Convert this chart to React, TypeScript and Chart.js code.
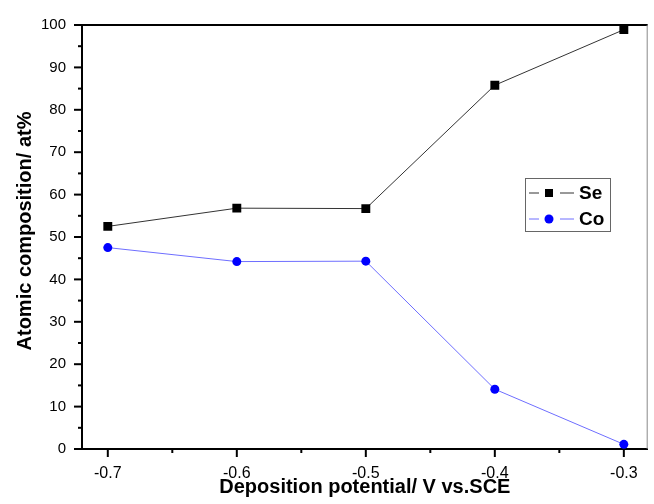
import React, { useEffect, useRef } from "react";
import { Chart, registerables } from "chart.js";

Chart.register(...registerables);

const potentials = [-0.7, -0.6, -0.5, -0.4, -0.3];
const seValues = [52.5, 56.8, 56.7, 85.8, 98.9];
const coValues = [47.5, 44.2, 44.3, 14.1, 1.1];
const xTickValues = [-0.7, -0.65, -0.6, -0.55, -0.5, -0.45, -0.4, -0.35, -0.3];
const xTickLabels = ["-0.7", "", "-0.6", "", "-0.5", "", "-0.4", "", "-0.3"];
const yTickValues = [0, 5, 10, 15, 20, 25, 30, 35, 40, 45, 50, 55, 60, 65, 70, 75, 80, 85, 90, 95, 100];
const yTickLabels = ["0", "", "10", "", "20", "", "30", "", "40", "", "50", "", "60", "", "70", "", "80", "", "90", "", "100"];
const xTitle = "Deposition potential/ V vs.SCE";
const yTitle = "Atomic composition/ at%";

const FONT = "'Liberation Sans', Arial, sans-serif";

const framePlugin = {
  id: "frame",
  afterDraw(chart: any) {
    const { ctx, chartArea } = chart;
    const { left, right, top, bottom } = chartArea;
    ctx.save();
    // top & right frame
    ctx.strokeStyle = "#000";
    ctx.lineWidth = 2;
    ctx.beginPath();
    ctx.moveTo(left - 1, top);
    ctx.lineTo(right, top);
    ctx.stroke();
    ctx.strokeStyle = "#888";
    ctx.lineWidth = 1;
    ctx.beginPath();
    ctx.moveTo(right - 0.5, top);
    ctx.lineTo(right - 0.5, bottom);
    ctx.stroke();
    // ticks
    ctx.strokeStyle = "#000";
    ctx.lineWidth = 2;
    const xs = chart.scales.x;
    xs.ticks.forEach((t: any, i: number) => {
      const px = xs.getPixelForValue(t.value);
      const len = xTickLabels[i] ? 8 : 4;
      ctx.beginPath();
      ctx.moveTo(px, bottom);
      ctx.lineTo(px, bottom + len);
      ctx.stroke();
    });
    const ys = chart.scales.y;
    ys.ticks.forEach((t: any, i: number) => {
      const py = ys.getPixelForValue(t.value);
      const len = yTickLabels[i] ? 8 : 4;
      ctx.beginPath();
      ctx.moveTo(left, py);
      ctx.lineTo(left - len, py);
      ctx.stroke();
    });
    // y title
    ctx.fillStyle = "#000";
    ctx.font = `bold 20px ${FONT}`;
    ctx.textAlign = "center";
    ctx.textBaseline = "middle";
    ctx.translate(25, 231);
    ctx.rotate(-Math.PI / 2);
    ctx.fillText(yTitle, 0, 0);
    ctx.restore();

    // legend
    ctx.save();
    const bx = 525, by = 178, bw = 85, bh = 53;
    ctx.fillStyle = "#fff";
    ctx.fillRect(bx, by, bw, bh);
    ctx.strokeStyle = "#666";
    ctx.lineWidth = 1;
    ctx.strokeRect(bx + 0.5, by + 0.5, bw, bh);
    chart.data.datasets.forEach((ds: any, i: number) => {
      const cy = by + 15 + i * 26;
      ctx.strokeStyle = ds.borderColor;
      ctx.lineWidth = 1;
      ctx.beginPath();
      ctx.moveTo(bx + 4, cy);
      ctx.lineTo(bx + 14, cy);
      ctx.moveTo(bx + 35, cy);
      ctx.lineTo(bx + 49, cy);
      ctx.stroke();
      ctx.fillStyle = ds.pointBackgroundColor;
      if (ds.pointStyle === "rect") {
        ctx.fillRect(bx + 20, cy - 4, 8, 8);
      } else {
        ctx.beginPath();
        ctx.arc(bx + 24, cy, 4.5, 0, Math.PI * 2);
        ctx.fill();
      }
      ctx.fillStyle = "#000";
      ctx.font = `bold 19px ${FONT}`;
      ctx.textAlign = "left";
      ctx.textBaseline = "middle";
      ctx.fillText(ds.label, bx + 54, cy + 1);
    });
    ctx.restore();
  },
};

export default function App() {
  const ref = useRef<HTMLCanvasElement>(null);
  useEffect(() => {
    const chart = new Chart(ref.current!, {
      type: "line",
      data: {
        datasets: [
          {
            label: "Se",
            data: potentials.map((x, i) => ({ x, y: seValues[i] })),
            borderColor: "#333",
            borderWidth: 1,
            pointStyle: "rect",
            pointRadius: 6.3,
            pointBackgroundColor: "#000",
            pointBorderWidth: 0,
            pointBorderColor: "#000",
          },
          {
            label: "Co",
            data: potentials.map((x, i) => ({ x, y: coValues[i] })),
            borderColor: "#6e6eff",
            borderWidth: 1,
            pointStyle: "circle",
            pointRadius: 4.5,
            pointBackgroundColor: "#0000ff",
            pointBorderWidth: 0,
            pointBorderColor: "#0000ff",
          },
        ],
      },
      options: {
        animation: false,
        responsive: false,
        layout: { padding: { top: 23, right: 2, left: 0, bottom: 0 } },
        plugins: { legend: { display: false }, tooltip: { enabled: false } },
        scales: {
          x: {
            type: "linear",
            min: -0.72,
            max: -0.2815,
            afterBuildTicks: (s: any) => {
              s.ticks = xTickValues.map((v) => ({ value: v }));
            },
            afterFit: (s: any) => {
              s.height = 55;
            },
            grid: { display: false, drawTicks: false },
            border: { display: true, color: "#000", width: 2 },
            ticks: {
              autoSkip: false,
              maxRotation: 0,
              padding: 15,
              color: "#000",
              font: { family: FONT, size: 16 },
              callback: (_v: any, i: number) => xTickLabels[i],
            },
            title: {
              display: true,
              text: xTitle,
              color: "#000",
              font: { family: FONT, size: 20, weight: "bold", lineHeight: 1.2 },
              padding: { top: 0, bottom: 5 },
            },
          },
          y: {
            type: "linear",
            min: 0,
            max: 100,
            afterBuildTicks: (s: any) => {
              s.ticks = yTickValues.map((v) => ({ value: v }));
            },
            afterFit: (s: any) => {
              s.width = 82;
            },
            grid: { display: false, drawTicks: false },
            border: { display: true, color: "#000", width: 2 },
            ticks: {
              autoSkip: false,
              padding: 16,
              color: "#000",
              font: { family: FONT, size: 15 },
              callback: (_v: any, i: number) => yTickLabels[i],
            },
          },
        },
      },
      plugins: [framePlugin],
    });
    return () => chart.destroy();
  }, []);
  return (
    <div style={{ position: "fixed", left: 0, top: 0, width: 654, height: 504, background: "#fff" }}>
      <canvas ref={ref} width={654} height={504} style={{ width: 654, height: 504 }} />
    </div>
  );
}
